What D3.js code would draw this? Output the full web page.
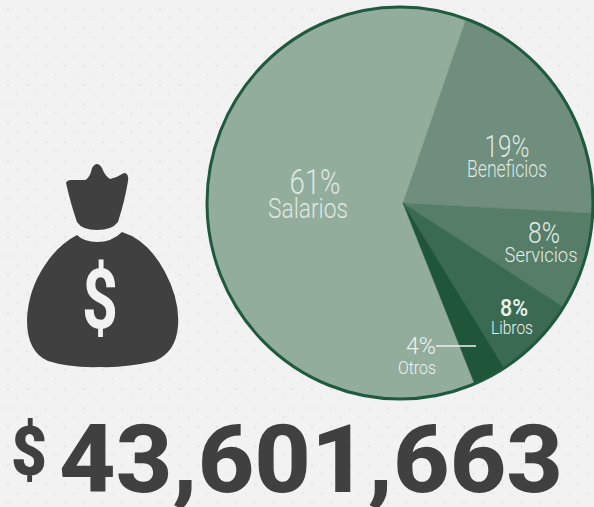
<!DOCTYPE html>
<html>
<head>
<meta charset="utf-8">
<script src="https://cdn.jsdelivr.net/npm/d3@7"></script>
<style>
  html, body { margin: 0; padding: 0; background: #f2f2f2; overflow: hidden; }
  text { font-family: Roboto, sans-serif; }
</style>
</head>
<body>
<div id="svg-container"></div>
<script>
// Data
const categories = ["Salarios", "Beneficios", "Servicios", "Libros", "Otros"];
const percentLabels = ["61%", "19%", "8%", "8%", "4%"];
// slice sizes as drawn in the reference (they differ a bit from the printed labels)
const sliceSizes = [61.25, 20.6, 8.3, 7.1, 2.75];
const sliceColors = ["#93ad9c", "#708e7d", "#567d68", "#3b6a52", "#1f5539"];
const total = "43,601,663";

// Set dimensions of the chart
const width = 594;
const height = 507;
// the slices meet at apex, slightly off the middle of the outline
const apex = { x: 403, y: 203 };
const outline = { cx: 400, cy: 203, rx: 193, ry: 196 };
const startAngle = -201.6 * Math.PI / 180;

const svg = d3.select("#svg-container")
  .append("svg")
    .attr("width", width)
    .attr("height", height)
    .style("display", "block");

const defs = svg.append("defs");

// Dotted background
const pattern = defs.append("pattern")
  .attr("id", "dots")
  .attr("width", 19)
  .attr("height", 19)
  .attr("patternUnits", "userSpaceOnUse");
pattern.append("rect").attr("width", 19).attr("height", 19).attr("fill", "#f2f2f2");
[[8, 9], [17.5, 18.5]].forEach(p => {
  pattern.append("circle")
    .attr("cx", p[0]).attr("cy", p[1]).attr("r", 1.5)
    .attr("fill", "#e9e9e9");
});
svg.append("rect").attr("width", width).attr("height", height).attr("fill", "url(#dots)");

defs.append("clipPath")
  .attr("id", "pieClip")
  .append("ellipse")
    .attr("cx", outline.cx).attr("cy", outline.cy)
    .attr("rx", outline.rx).attr("ry", outline.ry);

// Pie
const pie = d3.pie()
  .sort(null)
  .startAngle(startAngle)
  .endAngle(startAngle + 2 * Math.PI);
const arc = d3.arc().innerRadius(0).outerRadius(215);

svg.append("g")
    .attr("clip-path", "url(#pieClip)")
  .append("g")
    .attr("transform", `translate(${apex.x}, ${apex.y})`)
  .selectAll("path")
  .data(pie(sliceSizes))
  .enter()
  .append("path")
    .attr("d", arc)
    .attr("fill", (d, i) => sliceColors[i])
    .attr("stroke", (d, i) => sliceColors[i])
    .attr("stroke-width", 0.5);

svg.append("ellipse")
  .attr("cx", outline.cx).attr("cy", outline.cy)
  .attr("rx", outline.rx).attr("ry", outline.ry)
  .attr("fill", "none")
  .attr("stroke", "#1f5a3e")
  .attr("stroke-width", 3);

// Slice labels, placed to sit on the slices as in the reference
const labelSpots = [
  { pctX: 315, pctY: 194, pctSize: 35, pctLen: 51, nameX: 308, nameY: 218, nameSize: 27, nameLen: 80, weight: 300 },
  { pctX: 507, pctY: 157, pctSize: 31, pctLen: 45, nameX: 507, nameY: 177, nameSize: 23, nameLen: 80, weight: 300 },
  { pctX: 544, pctY: 243, pctSize: 29, pctLen: 32, nameX: 541, nameY: 262, nameSize: 21, nameLen: 73, weight: 300 },
  { pctX: 514, pctY: 316, pctSize: 24, pctLen: 28, nameX: 512, nameY: 334, nameSize: 19, nameLen: 42, weight: 300 },
  { pctX: 421, pctY: 354, pctSize: 24, pctLen: 30, nameX: 417, nameY: 374, nameSize: 19, nameLen: 38, weight: 300 }
];
const labelColor = ["#dfe8e2", "#dfe8e2", "#e3ebe5", "#eef2ef", "#eef2ef"];

const labels = svg.append("g")
  .selectAll("g")
  .data(categories)
  .enter()
  .append("g")
    .attr("text-anchor", "middle")
    .attr("fill", (d, i) => labelColor[i]);

labels.append("text")
  .attr("x", (d, i) => labelSpots[i].pctX)
  .attr("y", (d, i) => labelSpots[i].pctY)
  .attr("font-size", (d, i) => labelSpots[i].pctSize)
  .attr("font-weight", (d, i) => i === 3 ? 500 : labelSpots[i].weight)
  .attr("textLength", (d, i) => labelSpots[i].pctLen)
  .attr("lengthAdjust", "spacingAndGlyphs")
  .text((d, i) => percentLabels[i]);

labels.append("text")
  .attr("x", (d, i) => labelSpots[i].nameX)
  .attr("y", (d, i) => labelSpots[i].nameY)
  .attr("font-size", (d, i) => labelSpots[i].nameSize)
  .attr("font-weight", (d, i) => labelSpots[i].weight)
  .attr("textLength", (d, i) => labelSpots[i].nameLen)
  .attr("lengthAdjust", "spacingAndGlyphs")
  .text(d => d);

// Leader line for Otros
svg.append("line")
  .attr("x1", 436).attr("x2", 476)
  .attr("y1", 346).attr("y2", 346)
  .attr("stroke", "#eef2ef")
  .attr("stroke-width", 1.5);

// Money bag icon
const ink = "#404040";
const bag = svg.append("g").attr("fill", ink);
bag.append("path")
  .attr("d", "M66,183 Q67,180 71,180 Q80,180 85,180 Q90,178 92,168 Q97,160 102,168 Q105,176 110,179 Q118,177 124,173 Q129,173 128,181 Q125,200 118,222 Q112,230 97,230 Q82,230 77,222 Q71,205 66,183 Z");
bag.append("path")
  .attr("d", "M77,235 Q84,242 97,242 Q112,242 122,232 Q148,240 165,272 Q180,300 178,326 Q176,352 155,361 Q125,368 100,367 Q70,368 48,361 Q27,352 27,320 Q28,290 45,265 Q58,245 77,235 Z");
svg.append("text")
  .attr("x", 100)
  .attr("y", 328)
  .attr("text-anchor", "middle")
  .attr("font-size", 84)
  .attr("font-weight", 700)
  .attr("fill", "#f2f2f2")
  .attr("textLength", 36)
  .attr("lengthAdjust", "spacingAndGlyphs")
  .text("$");

// Total amount
svg.append("text")
  .attr("x", 11)
  .attr("y", 475)
  .attr("font-size", 68)
  .attr("font-weight", 900)
  .attr("fill", ink)
  .attr("textLength", 36)
  .attr("lengthAdjust", "spacingAndGlyphs")
  .text("$");
svg.append("text")
  .attr("x", 59)
  .attr("y", 492)
  .attr("font-size", 95)
  .attr("font-weight", 800)
  .attr("fill", ink)
  .attr("textLength", 504)
  .attr("lengthAdjust", "spacingAndGlyphs")
  .text(total);
</script>
</body>
</html>
